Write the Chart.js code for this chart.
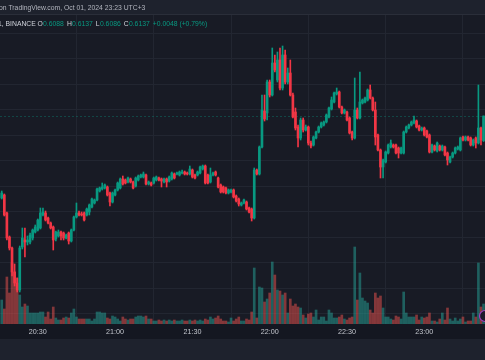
<!DOCTYPE html>
<html><head><meta charset="utf-8">
<script src="https://cdn.jsdelivr.net/npm/chart.js@4.4.1/dist/chart.umd.min.js"></script>
<style>html,body{margin:0;padding:0;background:#1e222d;overflow:hidden}canvas{display:block}</style>
</head><body>
<canvas id="c" width="485" height="360"></canvas>
<script>
// 1-minute candles, first one at 20:16 (minutes counted from 20:00)
const firstMinute = 16;
const open = [
.5973,.5979,.5943,.5895,.5873,.5825,.5803,.5789,.5875,.5889,.5885,.5885,.5893,.5905,.5909,.5913,.5939,.5943,.5933,.5923,
.5915,.5891,.5897,.5905,.5903,.5893,.5903,.5887,.5909,.5935,.5943,.5941,.5943,.5939,.5945,.5955,.5963,.5969,.5987,.5991,
.5993,.5995,.5983,.5965,.5979,.5989,.5993,.6011,.6009,.6005,.6011,.6005,.5997,.6009,.6015,.6015,.6019,.6001,.6003,.6003,
.6009,.6013,.6011,.6005,.6011,.6007,.6011,.6021,.6021,.6019,.6023,.6025,.6023,.6021,.6029,.6019,.6019,.6023,.6031,.6037,
.6019,.6005,.6019,.6025,.6013,.5999,.5995,.5993,.5983,.5985,.5989,.5977,.5971,.5959,.5963,.5965,.5953,.5951,.5933,.6029,
.6021,.6075,.6147,.6143,.6205,.6179,.6243,.6209,.6249,.6193,.6259,.6205,.6223,.6179,.6145,.6115,.6093,.6129,.6109,.6115,
.6083,.6079,.6093,.6105,.6115,.6119,.6125,.6135,.6151,.6165,.6181,.6185,.6155,.6143,.6145,.6133,.6105,.6093,.6149,.6133,
.6163,.6165,.6169,.6189,.6173,.6149,.6099,.6069,.6035,.6045,.6063,.6075,.6079,.6079,.6073,.6063,.6063,.6105,.6113,.6119,
.6123,.6127,.6117,.6109,.6113,.6107,.6099,.6065,.6077,.6067,.6077,.6069,.6075,.6063,.6045,.6055,.6063,.6071,.6069,.6095,
.6089,.6095,.6093,.6079,.6093,.6083,.6113,.6088];
const high = [
.5987,.5981,.5945,.5897,.5875,.5841,.5813,.5877,.5913,.5913,.5897,.5903,.5911,.5919,.5931,.5953,.5953,.5947,.5935,.5925,
.5917,.5907,.5909,.5907,.5905,.5901,.5905,.5911,.5937,.5963,.5947,.5945,.5945,.5953,.5961,.5973,.5971,.5993,.5995,.6003,
.6001,.5997,.5985,.5985,.5991,.6005,.6013,.6017,.6011,.6015,.6013,.6007,.6015,.6019,.6021,.6025,.6021,.6007,.6005,.6015,
.6017,.6015,.6013,.6013,.6013,.6017,.6025,.6023,.6025,.6027,.6029,.6027,.6025,.6037,.6031,.6021,.6027,.6037,.6039,.6039,
.6021,.6033,.6025,.6027,.6015,.6001,.5997,.5995,.5991,.5991,.5991,.5979,.5973,.5965,.5971,.5967,.5955,.5953,.6033,.6031,
.6077,.6179,.6179,.6209,.6209,.6273,.6259,.6265,.6273,.6277,.6269,.6233,.6249,.6183,.6153,.6119,.6133,.6133,.6119,.6117,
.6087,.6097,.6107,.6117,.6125,.6127,.6141,.6155,.6175,.6185,.6193,.6187,.6157,.6151,.6147,.6135,.6107,.6213,.6153,.6225,
.6171,.6175,.6191,.6199,.6175,.6165,.6101,.6071,.6051,.6067,.6081,.6089,.6081,.6081,.6075,.6075,.6107,.6117,.6121,.6127,
.6137,.6129,.6119,.6115,.6115,.6109,.6101,.6081,.6079,.6085,.6079,.6079,.6077,.6065,.6057,.6065,.6075,.6077,.6095,.6097,
.6097,.6097,.6095,.6091,.6095,.6199,.6115,.6137];
const low = [
.5971,.5937,.5889,.5869,.5817,.5797,.5785,.5785,.5871,.5855,.5879,.5881,.5889,.5903,.5907,.5911,.5937,.5927,.5921,.5911,
.5869,.5887,.5895,.5889,.5889,.5891,.5881,.5885,.5907,.5933,.5937,.5937,.5927,.5937,.5939,.5953,.5961,.5967,.5985,.5989,
.5991,.5977,.5957,.5963,.5977,.5987,.5991,.5999,.6001,.6003,.6003,.5991,.5995,.6007,.6013,.6013,.5999,.5999,.5997,.6001,
.6007,.6007,.5995,.6003,.5995,.6005,.6009,.6011,.6019,.6017,.6021,.6019,.6019,.6019,.6013,.6011,.6017,.6021,.6029,.6001,
.6001,.6003,.6017,.6017,.5993,.5983,.5983,.5981,.5981,.5983,.5973,.5965,.5957,.5957,.5961,.5949,.5943,.5927,.5931,.6019,
.6019,.6073,.6127,.6129,.6175,.6177,.6225,.6205,.6189,.6189,.6201,.6201,.6177,.6133,.6109,.6075,.6089,.6105,.6107,.6079,
.6073,.6077,.6091,.6103,.6113,.6117,.6123,.6133,.6149,.6163,.6179,.6153,.6141,.6141,.6127,.6101,.6089,.6091,.6131,.6131,
.6161,.6163,.6167,.6171,.6147,.6079,.6067,.6013,.6013,.6043,.6061,.6073,.6073,.6061,.6053,.6061,.6061,.6103,.6111,.6117,
.6121,.6113,.6107,.6107,.6097,.6093,.6063,.6063,.6067,.6065,.6067,.6067,.6057,.6039,.6043,.6053,.6061,.6069,.6067,.6087,
.6087,.6087,.6077,.6077,.6073,.6081,.6079,.6086];
const close = [
.5983,.5939,.5893,.5873,.5825,.5803,.5789,.5873,.5893,.5885,.5889,.5899,.5909,.5915,.5929,.5943,.5945,.5929,.5923,.5913,
.5889,.5905,.5905,.5897,.5893,.5899,.5887,.5909,.5935,.5943,.5939,.5939,.5929,.5951,.5959,.5971,.5969,.5991,.5993,.5995,
.5999,.5979,.5965,.5983,.5989,.6003,.6011,.6001,.6003,.6013,.6005,.5993,.6013,.6017,.6019,.6021,.6001,.6005,.5999,.6013,
.6015,.6009,.6007,.6011,.6005,.6015,.6023,.6013,.6023,.6025,.6025,.6021,.6021,.6031,.6015,.6013,.6025,.6035,.6037,.6003,
.6003,.6019,.6023,.6019,.5995,.5985,.5985,.5983,.5989,.5989,.5975,.5967,.5961,.5963,.5969,.5951,.5945,.5933,.6029,.6021,
.6075,.6149,.6131,.6205,.6179,.6243,.6229,.6249,.6193,.6259,.6205,.6223,.6179,.6135,.6113,.6093,.6129,.6109,.6115,.6083,
.6077,.6095,.6105,.6115,.6123,.6125,.6139,.6153,.6169,.6183,.6185,.6155,.6143,.6149,.6129,.6103,.6093,.6149,.6133,.6165,
.6169,.6173,.6189,.6173,.6149,.6095,.6069,.6035,.6049,.6065,.6079,.6083,.6075,.6063,.6063,.6073,.6105,.6115,.6119,.6125,
.6129,.6115,.6109,.6113,.6099,.6095,.6065,.6079,.6069,.6083,.6069,.6077,.6059,.6049,.6055,.6063,.6073,.6075,.6093,.6089,
.6095,.6089,.6079,.6089,.6083,.6113,.6089,.6137];
// volume in thousands
const volume = [
480,300,940,620,1220,1040,920,580,340,400,360,220,220,220,220,240,240,140,240,100,
340,120,80,80,120,140,120,220,300,140,100,100,100,100,100,60,100,240,240,220,
220,120,100,160,140,100,60,140,100,80,100,100,140,160,160,140,160,100,100,60,
60,80,60,80,60,80,60,80,60,60,80,60,60,80,60,80,60,80,60,100,
80,140,100,120,160,100,60,60,40,120,60,100,140,60,60,100,80,240,1120,120,
740,720,440,500,620,1240,980,680,660,580,620,220,500,360,400,340,320,180,120,200,
220,140,280,80,140,140,60,280,220,120,120,140,180,100,80,120,140,1540,480,1020,
520,460,420,280,220,620,520,560,320,140,140,100,80,160,140,100,640,220,140,140,
140,180,80,140,120,140,220,60,60,40,100,220,80,320,100,60,120,60,100,140,
40,60,60,220,140,1220,340,400];
const timeTicks = [30, 60, 90, 120, 150, 180];
const timeLabels = ['20:30', '21:00', '21:30', '22:00', '22:30', '23:00'];
const priceGrid = [0.6303, 0.6252, 0.6201, 0.6150, 0.6099, 0.6048, 0.5997, 0.5946, 0.5895, 0.5844, 0.5793, 0.5742];
const lastPrice = 0.6137;
const headerLine = 'on TradingView.com, Oct 01, 2024 23:23 UTC+3';
const symbolText = '1, BINANCE';
const ohlcLabels = ['O', 'H', 'L', 'C'];
const ohlcValues = ['0.6088', '0.6137', '0.6086', '0.6137'];
const changeText = '+0.0048 (+0.79%)';

const UP = '#089981', DOWN = '#f23645';
const VUP = 'rgba(38,166,154,0.5)', VDOWN = 'rgba(239,83,80,0.5)';
const minutes = open.map((_, i) => firstMinute + i);
const isUp = open.map((o, i) => close[i] >= o);

const deco = {
  id: 'deco',
  beforeDraw(chart) {
    const ctx = chart.ctx, a = chart.chartArea;
    ctx.save();
    ctx.fillStyle = '#1e222d'; ctx.fillRect(0, 0, 485, 360);
    ctx.fillStyle = '#181b25'; ctx.fillRect(0, a.top, 485, a.bottom - a.top);
    ctx.fillStyle = '#141721'; ctx.fillRect(0, a.bottom, 485, 15);
    ctx.fillStyle = '#2a2e39'; ctx.fillRect(0, a.top - 1, 485, 1);
    ctx.restore();
  },
  beforeDatasetsDraw(chart) {
    const ctx = chart.ctx, y = Math.round(chart.scales.y.getPixelForValue(lastPrice)) + 0.5;
    ctx.save();
    ctx.strokeStyle = 'rgba(8,153,129,0.35)'; ctx.lineWidth = 1; ctx.setLineDash([2, 2]);
    ctx.beginPath(); ctx.moveTo(0, y); ctx.lineTo(485, y); ctx.stroke();
    ctx.restore();
  },
  afterDraw(chart) {
    const ctx = chart.ctx;
    ctx.save();
    ctx.textBaseline = 'middle';
    ctx.font = '6.8px "Liberation Sans", Arial, sans-serif';
    ctx.fillStyle = '#b2b5be';
    ctx.fillText(headerLine, -1, 8);
    ctx.fillStyle = '#d1d4dc';
    ctx.fillText(symbolText, -2, 24.5);
    let x = 37.5;
    for (let i = 0; i < 4; i++) {
      ctx.fillStyle = '#d1d4dc';
      ctx.fillText(ohlcLabels[i], x, 24.5);
      x += ctx.measureText(ohlcLabels[i]).width + 0.3;
      ctx.fillStyle = UP;
      ctx.fillText(ohlcValues[i], x, 24.5);
      x += ctx.measureText(ohlcValues[i]).width + 3;
    }
    ctx.fillText(changeText, x, 24.5);
    // event marker at bottom-right
    ctx.beginPath(); ctx.arc(485, 316, 5.5, 0, Math.PI * 2);
    ctx.fillStyle = '#1c1a2a'; ctx.fill();
    ctx.lineWidth = 1.2; ctx.strokeStyle = '#a23fc0'; ctx.stroke();
    ctx.restore();
  }
};

new Chart(document.getElementById('c'), {
  type: 'bar',
  data: {
    datasets: [
      { yAxisID: 'yv', order: 3, grouped: false, barThickness: 2,
        data: minutes.map((m, i) => ({ x: m, y: volume[i] })),
        backgroundColor: isUp.map(u => u ? VUP : VDOWN) },
      { yAxisID: 'y', order: 2, grouped: false, barThickness: 1,
        data: minutes.map((m, i) => ({ x: m, y: [low[i], high[i]] })),
        backgroundColor: isUp.map(u => u ? UP : DOWN) },
      { yAxisID: 'y', order: 1, grouped: false, barThickness: 2, minBarLength: 1,
        data: minutes.map((m, i) => ({ x: m, y: [open[i], close[i]] })),
        backgroundColor: isUp.map(u => u ? UP : DOWN) }
    ]
  },
  options: {
    responsive: false, animation: false, devicePixelRatio: 1,
    layout: { padding: { top: 15, left: 0, right: 0, bottom: 0 } },
    plugins: { legend: { display: false }, tooltip: { enabled: false } },
    scales: {
      x: {
        type: 'linear', min: 15.33, max: 203.56, offset: false,
        grid: { color: '#222631', drawTicks: false, lineWidth: 1 },
        border: { display: false },
        afterBuildTicks: s => { s.ticks = timeTicks.map(v => ({ value: v })); },
        afterFit: s => { s.height = 36; },
        ticks: {
          padding: 4, maxRotation: 0, autoSkip: false, color: '#c3c6cd',
          font: { family: 'Liberation Sans', size: 7.2 },
          callback: v => timeLabels[timeTicks.indexOf(v)]
        }
      },
      y: {
        type: 'linear', position: 'right', min: 0.5721, max: 0.6339,
        grid: { color: '#222631', drawTicks: false, lineWidth: 1 },
        border: { display: false },
        ticks: { display: false },
        afterBuildTicks: s => { s.ticks = priceGrid.map(v => ({ value: v })); },
        afterFit: s => { s.width = 0; }
      },
      yv: { type: 'linear', display: false, min: 0, max: 6180 }
    }
  },
  plugins: [deco]
});
</script>
</body></html>
